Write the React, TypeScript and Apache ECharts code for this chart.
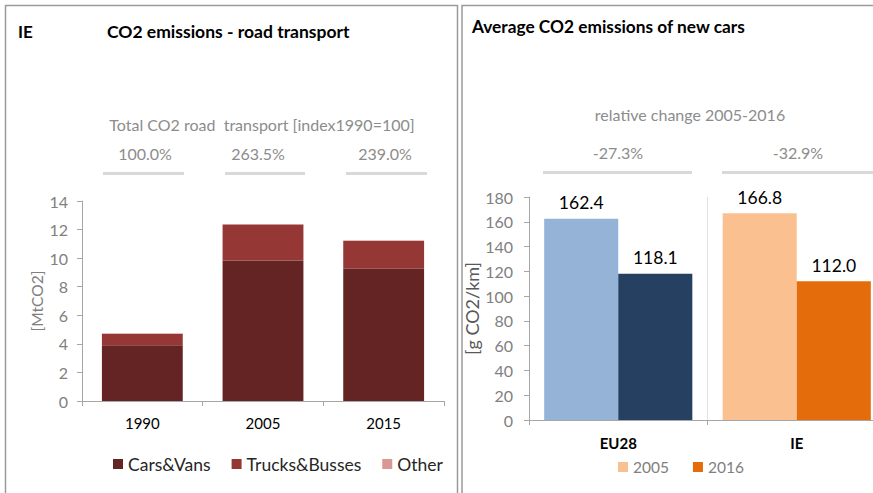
import React, { useEffect, useRef } from "react";
import * as echarts from "echarts";

const years = ["1990", "2005", "2015"];
const carsVans = [3.9, 9.83, 9.25];
const trucksBusses = [0.8, 2.53, 1.96];
const other = [0.02, 0.02, 0.02];
const indexLabels = ["100.0%", "263.5%", "239.0%"];

const regions = ["EU28", "IE"];
const co2_2005 = [162.4, 166.8];
const co2_2016 = [118.1, 112.0];
const changeLabels = ["-27.3%", "-32.9%"];

const FONT = "Lato, 'Noto Sans', sans-serif";

export default function App() {
  const ref = useRef<HTMLDivElement>(null);
  useEffect(() => {
    document.body.style.margin = "0";
    const chart = echarts.init(ref.current!, null, { renderer: "svg" });
    const gray = "#808080";
    const axisLineColor = "#a6a6a6";
    const valueLabel = {
      show: true,
      position: "top",
      distance: 7,
      color: "#000",
      fontSize: 17.5,
      fontFamily: FONT,
      formatter: (p: any) => Number(p.value).toFixed(1),
    };
    const option: any = {
      animation: false,
      backgroundColor: "#ffffff",
      textStyle: { fontFamily: FONT },
      grid: [
        { left: 82, width: 362, top: 201, height: 200, containLabel: false, outerBoundsMode: "none" },
        { left: 529, width: 357, top: 197, height: 223, containLabel: false, outerBoundsMode: "none" },
      ],
      legend: [
        {
          left: 113,
          top: 455,
          padding: 0,
          itemWidth: 10,
          itemHeight: 10,
          itemGap: 21,
          icon: "rect",
          data: ["Cars&Vans", "Trucks&Busses", "Other"],
          textStyle: { color: "#262626", fontSize: 17.5, fontFamily: FONT },
        },
        {
          left: 618,
          top: 459,
          padding: 0,
          itemWidth: 10,
          itemHeight: 10,
          itemGap: 24,
          icon: "rect",
          data: ["2005", "2016"],
          textStyle: { color: gray, fontSize: 15.5, fontFamily: FONT },
        },
      ],
      xAxis: [
        {
          type: "category",
          gridIndex: 0,
          data: years,
          axisLine: { lineStyle: { color: axisLineColor } },
          axisTick: { show: true, length: 5, lineStyle: { color: axisLineColor } },
          axisLabel: { color: "#000", fontSize: 15, margin: 14, fontFamily: FONT },
        },
        {
          type: "category",
          gridIndex: 1,
          data: regions,
          axisLine: { lineStyle: { color: axisLineColor } },
          axisTick: { show: true, length: 5, lineStyle: { color: axisLineColor } },
          splitLine: { show: true, lineStyle: { color: "#e0e0e0" } },
          axisLabel: { color: "#000", fontSize: 15, fontWeight: "bold", margin: 15, fontFamily: FONT },
        },
      ],
      yAxis: [
        {
          type: "value",
          gridIndex: 0,
          min: 0,
          max: 14,
          interval: 2,
          name: "[MtCO2]",
          nameLocation: "middle",
          nameRotate: 90,
          nameGap: 37,
          nameTextStyle: { color: gray, fontSize: 15.5, fontFamily: FONT },
          axisLine: { show: true, lineStyle: { color: axisLineColor } },
          axisTick: { show: true, length: 5, lineStyle: { color: axisLineColor } },
          splitLine: { show: false },
          axisLabel: { color: gray, fontSize: 16, margin: 14, fontFamily: FONT },
        },
        {
          type: "value",
          gridIndex: 1,
          min: 0,
          max: 180,
          interval: 20,
          name: "[g CO2/km]",
          nameLocation: "middle",
          nameRotate: 90,
          nameGap: 44,
          nameTextStyle: { color: "#595959", fontSize: 18, fontFamily: FONT },
          axisLine: { show: true, lineStyle: { color: axisLineColor } },
          axisTick: { show: true, length: 5, lineStyle: { color: axisLineColor } },
          splitLine: { show: false },
          axisLabel: { color: gray, fontSize: 16, margin: 16, fontFamily: FONT },
        },
      ],
      series: [
        {
          name: "Cars&Vans",
          type: "bar",
          stack: "road",
          xAxisIndex: 0,
          yAxisIndex: 0,
          barCategoryGap: "33%",
          data: carsVans,
          itemStyle: { color: "#632423" },
        },
        {
          name: "Trucks&Busses",
          type: "bar",
          stack: "road",
          xAxisIndex: 0,
          yAxisIndex: 0,
          data: trucksBusses,
          itemStyle: { color: "#953735" },
        },
        {
          name: "Other",
          type: "bar",
          stack: "road",
          xAxisIndex: 0,
          yAxisIndex: 0,
          data: other,
          itemStyle: { color: "#D99694" },
        },
        {
          name: "2005",
          type: "bar",
          xAxisIndex: 1,
          yAxisIndex: 1,
          barGap: "0%",
          barCategoryGap: "17%",
          itemStyle: { color: "#FAC090" },
          data: co2_2005.map((v, i) =>
            i === 0 ? { value: v, itemStyle: { color: "#95B3D7" } } : { value: v }
          ),
          label: valueLabel,
        },
        {
          name: "2016",
          type: "bar",
          xAxisIndex: 1,
          yAxisIndex: 1,
          barGap: "0%",
          barCategoryGap: "17%",
          itemStyle: { color: "#E46C0A" },
          data: co2_2016.map((v, i) =>
            i === 0 ? { value: v, itemStyle: { color: "#254061" } } : { value: v }
          ),
          label: valueLabel,
        },
      ],
      graphic: [
        {
          type: "rect",
          shape: { x: 5.5, y: 5.5, width: 452, height: 500 },
          style: { fill: "none", stroke: "#9a9a9a", lineWidth: 1.5 },
          silent: true,
        },
        {
          type: "rect",
          shape: { x: 462, y: 5.5, width: 500, height: 500 },
          style: { fill: "none", stroke: "#9a9a9a", lineWidth: 1.5 },
          silent: true,
        },
        {
          type: "text",
          x: 18,
          y: 31,
          style: { text: "IE", font: `bold 17px ${FONT}`, fill: "#000", textVerticalAlign: "middle" },
        },
        {
          type: "text",
          x: 107,
          y: 31,
          style: {
            text: "CO2 emissions - road transport",
            font: `bold 17.5px ${FONT}`,
            fill: "#000",
            textVerticalAlign: "middle",
          },
        },
        {
          type: "text",
          x: 472,
          y: 26,
          style: {
            text: "Average CO2 emissions of new cars",
            font: `bold 17.3px ${FONT}`,
            fill: "#000",
            textVerticalAlign: "middle",
          },
        },
        {
          type: "text",
          x: 262,
          y: 124,
          style: {
            text: "Total CO2 road  transport [index1990=100]",
            font: `16px ${FONT}`,
            fill: "#8c8c8c",
            textAlign: "center",
            textVerticalAlign: "middle",
          },
        },
        ...indexLabels.map((t, i) => ({
          type: "text",
          x: [145, 258, 385][i],
          y: 153,
          style: {
            text: t,
            font: `16px ${FONT}`,
            fill: "#8c8c8c",
            textAlign: "center",
            textVerticalAlign: "middle",
          },
        })),
        ...[
          [103, 184],
          [225, 305],
          [346, 427],
        ].map(([a, b]) => ({
          type: "rect",
          shape: { x: a, y: 172, width: b - a, height: 3 },
          style: { fill: "#d9d9d9" },
          silent: true,
        })),
        {
          type: "text",
          x: 690,
          y: 114,
          style: {
            text: "relative change 2005-2016",
            font: `16px ${FONT}`,
            fill: "#8c8c8c",
            textAlign: "center",
            textVerticalAlign: "middle",
          },
        },
        ...changeLabels.map((t, i) => ({
          type: "text",
          x: [618, 798][i],
          y: 152,
          style: {
            text: t,
            font: `16px ${FONT}`,
            fill: "#8c8c8c",
            textAlign: "center",
            textVerticalAlign: "middle",
          },
        })),
        ...[
          [543, 692],
          [722, 873],
        ].map(([a, b]) => ({
          type: "rect",
          shape: { x: a, y: 171, width: b - a, height: 3 },
          style: { fill: "#d9d9d9" },
          silent: true,
        })),
      ],
    };
    chart.setOption(option);
    return () => chart.dispose();
  }, []);
  return <div ref={ref} style={{ width: 873, height: 493 }} />;
}
